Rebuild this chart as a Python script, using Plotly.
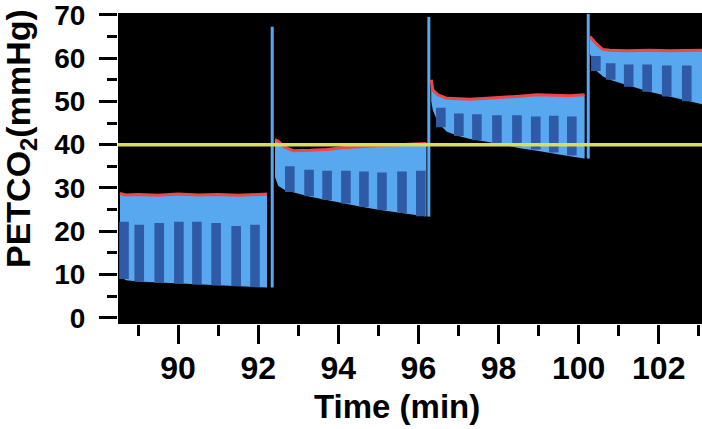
import plotly.graph_objects as go

# ---- data ----
# segment envelopes (time in min, PETCO2 in mmHg)
t1 = [88.55, 88.6, 88.7, 89.0, 89.5, 90.0, 90.5, 91.0, 91.5, 92.0, 92.22]
top1 = [28.8, 28.6, 28.4, 28.5, 28.3, 28.6, 28.4, 28.5, 28.3, 28.5, 28.6]
bot1 = [10.5, 9.3, 8.7, 8.4, 8.1, 7.9, 7.7, 7.5, 7.3, 7.1, 7.0]

t2 = [92.42, 92.5, 92.65, 92.87, 93.3, 93.72, 94.1, 94.54, 95.0, 95.36, 95.8, 96.2]
top2 = [41.2, 40.8, 39.5, 38.6, 38.7, 38.9, 39.3, 39.6, 39.8, 39.9, 40.1, 40.3]
bot2 = [32.5, 30.5, 29.6, 29.0, 28.0, 27.2, 26.5, 25.7, 25.0, 24.5, 23.9, 23.4]

t3 = [96.32, 96.36, 96.49, 96.71, 97.0, 97.29, 97.71, 98.11, 98.53, 98.96, 99.36, 99.78, 100.15]
top3 = [55.0, 52.6, 51.5, 50.7, 50.6, 50.5, 50.7, 50.9, 51.2, 51.5, 51.4, 51.3, 51.5]
bot3 = [50.0, 48.0, 45.0, 43.0, 42.0, 41.3, 40.7, 40.0, 39.2, 38.6, 38.0, 37.3, 36.8]

t4 = [100.28, 100.33, 100.45, 100.6, 100.78, 101.2, 101.77, 102.27, 102.7, 103.1]
top4 = [65.0, 64.5, 63.2, 62.0, 61.8, 61.7, 61.8, 61.7, 61.8, 61.8]
bot4 = [61.0, 60.0, 57.0, 55.8, 55.0, 53.8, 52.2, 51.0, 50.2, 49.3]

# individual breath "teeth" (dark columns): centre time, top, base
teeth1_t = [88.65, 89.03, 89.53, 90.02, 90.47, 90.95, 91.45, 91.92]
teeth1_top = [22.2, 21.5, 21.9, 22.2, 22.2, 21.9, 21.2, 21.5]
teeth1_base = [9.0, 8.4, 8.1, 7.9, 7.7, 7.5, 7.3, 7.1]

teeth2_t = [92.79, 93.27, 93.72, 94.19, 94.64, 95.09, 95.59, 96.06]
teeth2_top = [35.0, 34.2, 34.0, 34.0, 33.8, 33.6, 33.8, 34.0]
teeth2_base = [29.1, 28.1, 27.2, 26.4, 25.6, 24.9, 24.2, 23.5]

teeth3_t = [96.56, 97.01, 97.46, 97.96, 98.46, 98.93, 99.38, 99.83]
teeth3_top = [48.5, 47.2, 47.0, 46.8, 46.8, 46.5, 46.7, 46.5]
teeth3_base = [44.0, 42.0, 41.0, 40.3, 39.5, 38.9, 38.2, 37.5]

teeth4_t = [100.43, 100.80, 101.25, 101.71, 102.2, 102.7]
teeth4_top = [60.5, 58.8, 58.5, 58.5, 58.3, 58.3]
teeth4_base = [57.0, 55.0, 53.4, 52.2, 51.1, 50.0]

tooth_width = 0.24

# transition spikes
spike_t = [92.35, 96.26, 100.24]
spike_lo = [7.0, 23.4, 36.8]
spike_hi = [67.2, 69.5, 70.2]

target_level = 40
x_ticks = [90, 92, 94, 96, 98, 100, 102]
y_ticks = [0, 10, 20, 30, 40, 50, 60, 70]

LIGHT = "#57a8ee"
DARK = "#2f5ba6"
RED = "#ef4646"
YELLOW = "#d8de5a"

segments = [(t1, top1, bot1), (t2, top2, bot2), (t3, top3, bot3), (t4, top4, bot4)]
teeth = [(teeth1_t, teeth1_top, teeth1_base), (teeth2_t, teeth2_top, teeth2_base),
         (teeth3_t, teeth3_top, teeth3_base), (teeth4_t, teeth4_top, teeth4_base)]

fig = go.Figure()

for t, top, bot in segments:
    fig.add_trace(go.Scatter(x=t + t[::-1], y=top + bot[::-1], fill="toself",
                             fillcolor=LIGHT, line=dict(width=0), mode="lines",
                             hoverinfo="skip", showlegend=False))

# dark teeth as filled rectangles (scatter so they layer above the fill)
for tt, tp, bs in teeth:
    xs, ys = [], []
    h = tooth_width / 2
    for c, a, b in zip(tt, tp, bs):
        xs += [c - h, c + h, c + h, c - h, c - h, None]
        ys += [b, b, a, a, b, None]
    fig.add_trace(go.Scatter(x=xs, y=ys, fill="toself", fillcolor=DARK, mode="lines",
                             line=dict(width=0), hoverinfo="skip", showlegend=False))

for st, lo, hi in zip(spike_t, spike_lo, spike_hi):
    fig.add_trace(go.Scatter(x=[st, st], y=[lo, hi], mode="lines",
                             line=dict(color=LIGHT, width=3), showlegend=False))

for t, top, bot in segments:
    fig.add_trace(go.Scatter(x=t, y=top, mode="lines", line=dict(color=RED, width=3),
                             showlegend=False))

fig.add_trace(go.Scatter(x=[88.5, 103.08], y=[target_level, target_level], mode="lines",
                         line=dict(color=YELLOW, width=3.5), showlegend=False))

FONT = "Liberation Sans, Arial, sans-serif"

fig.update_layout(
    width=702, height=429,
    margin=dict(l=118, r=0, t=13, b=105),
    paper_bgcolor="white", plot_bgcolor="black",
    showlegend=False,
    xaxis=dict(range=[88.5, 103.08], tickvals=x_ticks, ticks="outside", ticklen=19,
               tickwidth=2.5, tickcolor="black", showgrid=False, zeroline=False,
               showline=False, automargin=False,
               tickfont=dict(family=FONT, size=32, color="black", weight="bold"),
               ticklabelstandoff=-3,
               minor=dict(dtick=1, tick0=89, ticks="outside", ticklen=11, tickwidth=2.5,
                          tickcolor="black", showgrid=False)),
    yaxis=dict(range=[-1.4, 70.4], tickvals=y_ticks, ticks="outside", ticklen=18,
               tickwidth=2.5, tickcolor="black", showgrid=False, zeroline=False,
               showline=False, automargin=False, ticklabeloverflow="allow",
               tickfont=dict(family=FONT, size=28, color="black", weight="bold"),
               ticklabelstandoff=8,
               minor=dict(dtick=5, tick0=5, ticks="outside", ticklen=10, tickwidth=2.5,
                          tickcolor="black", showgrid=False)),
    annotations=[
        dict(text="Time (min)", xref="paper", yref="paper", x=0.478, y=-0.265,
             xanchor="center", yanchor="middle", showarrow=False,
             font=dict(family=FONT, size=33, color="black", weight="bold")),
        dict(text="PETCO<sub>2</sub>(mmHg)", xref="paper", yref="paper", x=-0.166, y=0.595,
             xanchor="center", yanchor="middle", textangle=-90, showarrow=False,
             font=dict(family=FONT, size=34, color="black", weight="bold")),
    ],
)

fig.write_html("out.html", config={"displayModeBar": False},
               post_script="document.body.style.margin='0';")
